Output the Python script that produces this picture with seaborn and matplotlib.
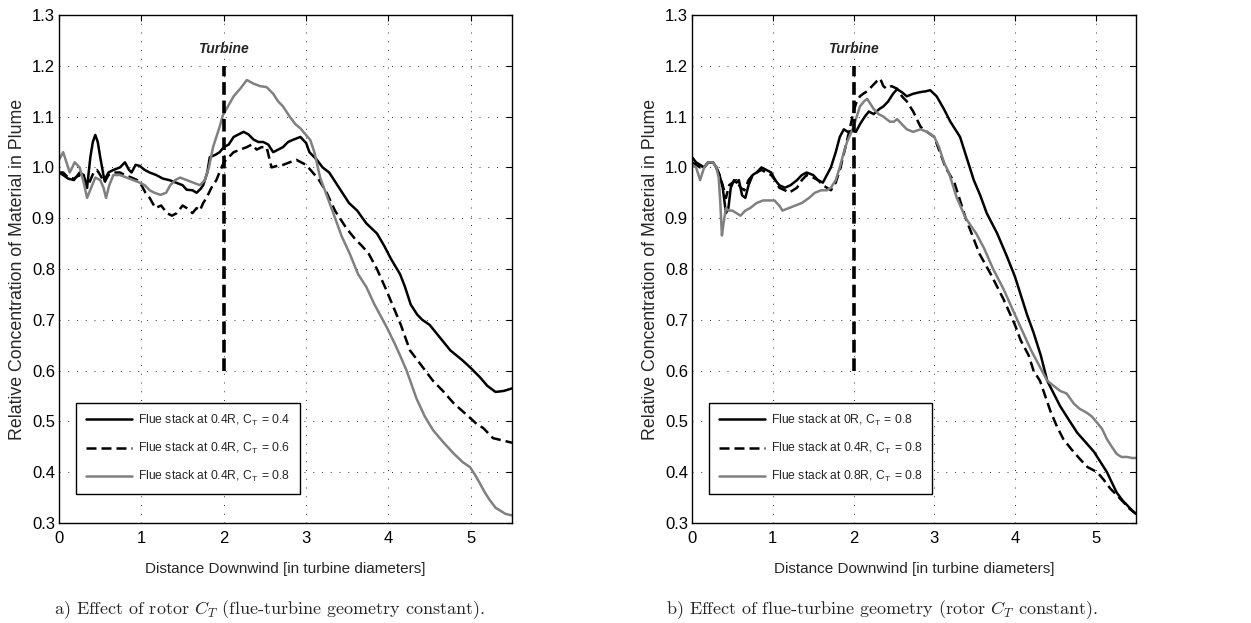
import matplotlib
matplotlib.use("Agg")
import matplotlib.pyplot as plt
import seaborn as sns

# ---- panel a: effect of rotor CT (flue stack at 0.4R) ----
a_ct04_x = [0, 0.05, 0.11, 0.18, 0.25, 0.3, 0.34, 0.38, 0.41, 0.44, 0.47, 0.5, 0.55, 0.6, 0.66, 0.74, 0.8, 0.85, 0.88, 0.93,
            0.98, 1.04, 1.1, 1.18, 1.26, 1.34, 1.42, 1.5, 1.55, 1.62, 1.67, 1.72, 1.75, 1.8, 1.83, 1.9, 1.95, 2.0, 2.06, 2.12,
            2.18, 2.24, 2.3, 2.36, 2.42, 2.48, 2.54, 2.6, 2.66, 2.72, 2.78, 2.85, 2.93, 3.0, 3.04, 3.13, 3.2, 3.28, 3.4, 3.52,
            3.62, 3.73, 3.86, 3.95, 4.03, 4.14, 4.2, 4.27, 4.35, 4.41, 4.5, 4.6, 4.75, 4.9, 5.0, 5.11, 5.2, 5.3, 5.4, 5.5]
a_ct04_y = [0.99, 0.985, 0.978, 0.975, 0.99, 0.985, 0.96, 1.02, 1.05, 1.064, 1.05, 1.02, 0.975, 0.99, 0.995, 1.0, 1.01, 0.995, 0.99, 1.005,
            1.003, 0.995, 0.99, 0.985, 0.978, 0.975, 0.97, 0.965, 0.956, 0.955, 0.95, 0.958, 0.965, 0.99, 1.02, 1.025, 1.03, 1.04, 1.045, 1.06,
            1.065, 1.07, 1.065, 1.055, 1.05, 1.05, 1.045, 1.03, 1.035, 1.04, 1.05, 1.055, 1.06, 1.048, 1.03, 1.015, 1.0, 0.99, 0.96, 0.93,
            0.915, 0.89, 0.87, 0.845, 0.82, 0.79, 0.765, 0.73, 0.71, 0.70, 0.69, 0.67, 0.64, 0.62, 0.605, 0.587, 0.57, 0.558, 0.56, 0.565]

a_ct06_x = [0, 0.05, 0.11, 0.18, 0.25, 0.3, 0.34, 0.38, 0.42, 0.46, 0.5, 0.55, 0.6, 0.66, 0.74, 0.8, 0.88, 0.95, 1.0, 1.05,
            1.1, 1.17, 1.24, 1.31, 1.37, 1.43, 1.5, 1.55, 1.62, 1.67, 1.71, 1.75, 1.79, 1.85, 1.91, 1.96, 2.0, 2.06, 2.12, 2.2,
            2.28, 2.34, 2.4, 2.46, 2.52, 2.55, 2.58, 2.65, 2.72, 2.8, 2.88, 2.94, 3.0, 3.08, 3.15, 3.25, 3.35, 3.49, 3.59, 3.68,
            3.76, 3.86, 3.97, 4.06, 4.15, 4.26, 4.4, 4.54, 4.66, 4.79, 4.9, 4.99, 5.07, 5.15, 5.27, 5.4, 5.5]
a_ct06_y = [0.99, 0.99, 0.98, 0.978, 0.985, 0.98, 0.96, 0.975, 0.99, 0.995, 0.985, 0.97, 0.985, 0.99, 0.99, 0.985, 0.98, 0.975, 0.965, 0.95,
            0.94, 0.92, 0.925, 0.91, 0.905, 0.91, 0.925, 0.92, 0.91, 0.92, 0.915, 0.93, 0.94, 0.96, 0.975, 0.995, 1.01, 1.02, 1.03, 1.035,
            1.04, 1.045, 1.035, 1.04, 1.04, 1.02, 1.0, 1.003, 1.005, 1.01, 1.015, 1.01, 1.005, 0.99, 0.977, 0.95, 0.915, 0.88, 0.86, 0.845,
            0.83, 0.80, 0.76, 0.725, 0.69, 0.64, 0.61, 0.58, 0.56, 0.536, 0.52, 0.507, 0.495, 0.487, 0.467, 0.462, 0.458]

a_ct08_x = [0, 0.05, 0.09, 0.13, 0.19, 0.25, 0.3, 0.34, 0.39, 0.44, 0.5, 0.54, 0.57, 0.61, 0.66, 0.74, 0.82, 0.9, 0.98, 1.04,
            1.1, 1.16, 1.23, 1.3, 1.35, 1.41, 1.47, 1.55, 1.63, 1.71, 1.77, 1.82, 1.87, 1.95, 1.99, 2.05, 2.12, 2.2, 2.28, 2.36,
            2.44, 2.52, 2.6, 2.66, 2.72, 2.8, 2.87, 2.93, 3.05, 3.1, 3.17, 3.25, 3.33, 3.43, 3.53, 3.63, 3.73, 3.83, 3.98, 4.07,
            4.14, 4.22, 4.34, 4.44, 4.54, 4.66, 4.79, 4.9, 4.99, 5.05, 5.11, 5.17, 5.23, 5.3, 5.35, 5.42, 5.5]
a_ct08_y = [1.015, 1.03, 1.01, 0.99, 1.01, 1.0, 0.97, 0.94, 0.96, 0.98, 0.975, 0.96, 0.94, 0.965, 0.985, 0.985, 0.98, 0.975, 0.97, 0.965,
            0.955, 0.95, 0.946, 0.95, 0.965, 0.975, 0.98, 0.975, 0.97, 0.965, 0.975, 1.0, 1.04, 1.08, 1.103, 1.12, 1.14, 1.155, 1.172, 1.165,
            1.16, 1.158, 1.145, 1.13, 1.12, 1.1, 1.085, 1.077, 1.054, 1.03, 0.98, 0.945, 0.91, 0.865, 0.83, 0.79, 0.765, 0.73, 0.685, 0.655,
            0.63, 0.6, 0.545, 0.51, 0.483, 0.46, 0.437, 0.42, 0.41, 0.395, 0.378, 0.36, 0.345, 0.33, 0.325, 0.318, 0.315]

# ---- panel b: effect of flue-turbine geometry (CT = 0.8) ----
b_0r_x = [0, 0.05, 0.1, 0.15, 0.2, 0.26, 0.3, 0.34, 0.38, 0.42, 0.45, 0.48, 0.52, 0.55, 0.58, 0.62, 0.66, 0.7, 0.75, 0.8,
          0.86, 0.92, 0.98, 1.03, 1.08, 1.15, 1.22, 1.3, 1.36, 1.42, 1.5, 1.56, 1.62, 1.67, 1.72, 1.78, 1.83, 1.88, 1.93, 1.98,
          2.03, 2.08, 2.14, 2.19, 2.25, 2.32, 2.37, 2.43, 2.49, 2.54, 2.6, 2.66, 2.74, 2.82, 2.9, 2.95, 3.03, 3.12, 3.2, 3.28,
          3.32, 3.4, 3.49, 3.57, 3.65, 3.78, 3.9, 4.0, 4.07, 4.15, 4.23, 4.32, 4.4, 4.48, 4.56, 4.66, 4.77, 4.87, 4.98, 5.06,
          5.14, 5.2, 5.26, 5.33, 5.39, 5.45, 5.5]
b_0r_y = [1.02, 1.01, 1.005, 1.0, 1.01, 1.01, 1.0, 0.985, 0.96, 0.91, 0.92, 0.96, 0.975, 0.97, 0.975, 0.945, 0.94, 0.965, 0.985, 0.99,
          1.0, 0.995, 0.99, 0.975, 0.965, 0.96, 0.965, 0.975, 0.985, 0.99, 0.985, 0.975, 0.97, 0.985, 1.0, 1.03, 1.06, 1.075, 1.07, 1.072,
          1.07, 1.085, 1.1, 1.11, 1.105, 1.115, 1.12, 1.13, 1.145, 1.154, 1.148, 1.14, 1.145, 1.148, 1.15, 1.152, 1.14, 1.115, 1.09, 1.07,
          1.06, 1.02, 0.975, 0.945, 0.91, 0.87, 0.825, 0.785, 0.75, 0.71, 0.675, 0.63, 0.58, 0.555, 0.53, 0.505, 0.478, 0.46, 0.44, 0.42,
          0.4, 0.38, 0.36, 0.345, 0.335, 0.325, 0.318]

b_04r_x = [0, 0.05, 0.1, 0.15, 0.2, 0.26, 0.3, 0.34, 0.38, 0.42, 0.46, 0.5, 0.55, 0.6, 0.65, 0.7, 0.75, 0.8, 0.86, 0.92,
           0.98, 1.03, 1.08, 1.15, 1.2, 1.25, 1.3, 1.36, 1.42, 1.5, 1.56, 1.62, 1.67, 1.72, 1.78, 1.84, 1.9, 1.96, 2.0, 2.04,
           2.08, 2.12, 2.17, 2.23, 2.29, 2.33, 2.37, 2.41, 2.47, 2.54, 2.6, 2.66, 2.74, 2.83, 2.91, 3.0, 3.07, 3.14, 3.25, 3.39,
           3.56, 3.7, 3.86, 4.0, 4.07, 4.17, 4.23, 4.31, 4.44, 4.52, 4.6, 4.7, 4.81, 4.9, 5.02, 5.1, 5.18, 5.26, 5.35, 5.42, 5.5]
b_04r_y = [1.01, 1.005, 1.0, 1.0, 1.01, 1.01, 1.0, 0.985, 0.965, 0.94, 0.965, 0.97, 0.975, 0.96, 0.955, 0.975, 0.985, 0.99, 0.995, 0.99,
           0.985, 0.975, 0.96, 0.955, 0.95, 0.955, 0.96, 0.975, 0.985, 0.98, 0.975, 0.965, 0.96, 0.955, 0.97, 1.0, 1.04, 1.08, 1.11, 1.13,
           1.14, 1.145, 1.15, 1.16, 1.17, 1.175, 1.16, 1.155, 1.16, 1.155, 1.14, 1.13, 1.11, 1.08, 1.07, 1.06, 1.03, 1.0, 0.97, 0.9,
           0.83, 0.79, 0.74, 0.69, 0.66, 0.63, 0.6, 0.58, 0.52, 0.49, 0.465, 0.445, 0.425, 0.41, 0.4, 0.385, 0.368, 0.355, 0.34, 0.328, 0.318]

b_08r_x = [0, 0.05, 0.1, 0.15, 0.2, 0.26, 0.3, 0.33, 0.35, 0.37, 0.39, 0.42, 0.45, 0.5, 0.55, 0.6, 0.66, 0.72, 0.8, 0.88,
           0.96, 1.02, 1.08, 1.12, 1.2, 1.28, 1.36, 1.45, 1.52, 1.6, 1.67, 1.72, 1.78, 1.83, 1.88, 1.92, 1.96, 2.0, 2.04, 2.08,
           2.13, 2.17, 2.21, 2.25, 2.31, 2.37, 2.45, 2.5, 2.54, 2.6, 2.66, 2.74, 2.83, 2.91, 3.0, 3.06, 3.12, 3.18, 3.28, 3.39,
           3.52, 3.62, 3.73, 3.86, 4.0, 4.1, 4.2, 4.3, 4.4, 4.48, 4.56, 4.64, 4.73, 4.8, 4.89, 4.95, 5.02, 5.08, 5.14, 5.2,
           5.26, 5.32, 5.39, 5.45, 5.5]
b_08r_y = [1.005, 1.0, 0.975, 1.0, 1.01, 1.01, 1.0, 0.98, 0.93, 0.866, 0.89, 0.92, 0.915, 0.915, 0.91, 0.905, 0.915, 0.92, 0.93, 0.935,
           0.935, 0.935, 0.925, 0.915, 0.92, 0.925, 0.93, 0.94, 0.95, 0.955, 0.955, 0.96, 0.975, 1.0, 1.03, 1.05, 1.065, 1.08, 1.1, 1.12,
           1.13, 1.135, 1.125, 1.115, 1.105, 1.1, 1.09, 1.09, 1.095, 1.085, 1.075, 1.07, 1.075, 1.07, 1.06, 1.04, 1.01, 0.99, 0.94, 0.9,
           0.87, 0.84, 0.80, 0.76, 0.71, 0.675, 0.64, 0.61, 0.58, 0.57, 0.56, 0.555, 0.535, 0.525, 0.517, 0.51, 0.497, 0.485, 0.465, 0.45,
           0.436, 0.43, 0.43, 0.428, 0.428]

a_labels = [r"Flue stack at 0.4R, C$_\mathrm{T}$ = 0.4",
            r"Flue stack at 0.4R, C$_\mathrm{T}$ = 0.6",
            r"Flue stack at 0.4R, C$_\mathrm{T}$ = 0.8"]
b_labels = [r"Flue stack at 0R, C$_\mathrm{T}$ = 0.8",
            r"Flue stack at 0.4R, C$_\mathrm{T}$ = 0.8",
            r"Flue stack at 0.8R, C$_\mathrm{T}$ = 0.8"]
captions = [r"a) Effect of rotor $C_T$ (flue-turbine geometry constant).",
            r"b) Effect of flue-turbine geometry (rotor $C_T$ constant)."]
turbine_x = [2.0, 2.0]
turbine_y = [0.6, 1.2]
x_ticks = [0, 1, 2, 3, 4, 5]
y_ticks = [0.3, 0.4, 0.5, 0.6, 0.7, 0.8, 0.9, 1.0, 1.1, 1.2, 1.3]

sns.set_style("white")
plt.rcParams["font.family"] = ["Liberation Sans", "DejaVu Sans"]
plt.rcParams["mathtext.fontset"] = "custom"
plt.rcParams["mathtext.rm"] = "Liberation Sans"
plt.rcParams["mathtext.it"] = "cmmi10"
plt.rcParams["mathtext.bf"] = "Liberation Sans:bold"

styles = [("black", "-"), ("black", (0, (4, 2))), ("#808080", "-")]

fig = plt.figure(figsize=(12.51, 6.23), dpi=100)
ax_a = fig.add_axes([0.0472, 0.1605, 0.3621, 0.8154])
ax_b = fig.add_axes([0.5532, 0.1605, 0.3549, 0.8154])

panels = [
    (ax_a, [(a_ct04_x, a_ct04_y), (a_ct06_x, a_ct06_y), (a_ct08_x, a_ct08_y)], a_labels),
    (ax_b, [(b_0r_x, b_0r_y), (b_04r_x, b_04r_y), (b_08r_x, b_08r_y)], b_labels),
]

for ax, series, labels in panels:
    for (xs, ys), lab, (col, ls) in zip(series, labels, styles):
        sns.lineplot(x=xs, y=ys, ax=ax, color=col, linestyle=ls, linewidth=1.8,
                     label=lab, sort=False, estimator=None)
    ax.plot(turbine_x, turbine_y, color="black", linestyle=(0, (3.5, 1.6)), linewidth=2.6)
    ax.text(2.0, 1.233, "Turbine", ha="center", va="center", fontsize=10,
            fontweight="bold", fontstyle="italic")
    ax.set_xlim(0, 5.5)
    ax.set_ylim(0.3, 1.3)
    ax.set_xticks(x_ticks)
    ax.set_yticks(y_ticks)
    ax.set_yticklabels([f"{v:.1f}" for v in y_ticks])
    ax.grid(True, color="#333333", linestyle=(0, (1, 8)), linewidth=0.7)
    ax.tick_params(direction="in", top=True, right=True, length=4, labelsize=12, colors="black")
    ax.tick_params(axis="x", pad=6)
    ax.tick_params(axis="y", pad=3)
    for sp in ax.spines.values():
        sp.set_color("black")
        sp.set_linewidth(1.0)
    ax.set_xlabel("Distance Downwind [in turbine diameters]", fontsize=11, labelpad=11)
    ax.set_ylabel("Relative Concentration of Material in Plume", fontsize=12.8, labelpad=4)
    leg = ax.legend(loc="lower left", bbox_to_anchor=(0.025, 0.045), fontsize=8.7,
                    handlelength=3.8, handletextpad=0.5, labelspacing=1.1, borderpad=0.8,
                    fancybox=False, framealpha=1, edgecolor="black")
    leg.get_frame().set_linewidth(1.0)

fig.text(0.215, 0.021, captions[0], ha="center", va="center", fontsize=13, family="cmr10")
fig.text(0.705, 0.021, captions[1], ha="center", va="center", fontsize=13, family="cmr10")

fig.savefig("out.png", dpi=100)
